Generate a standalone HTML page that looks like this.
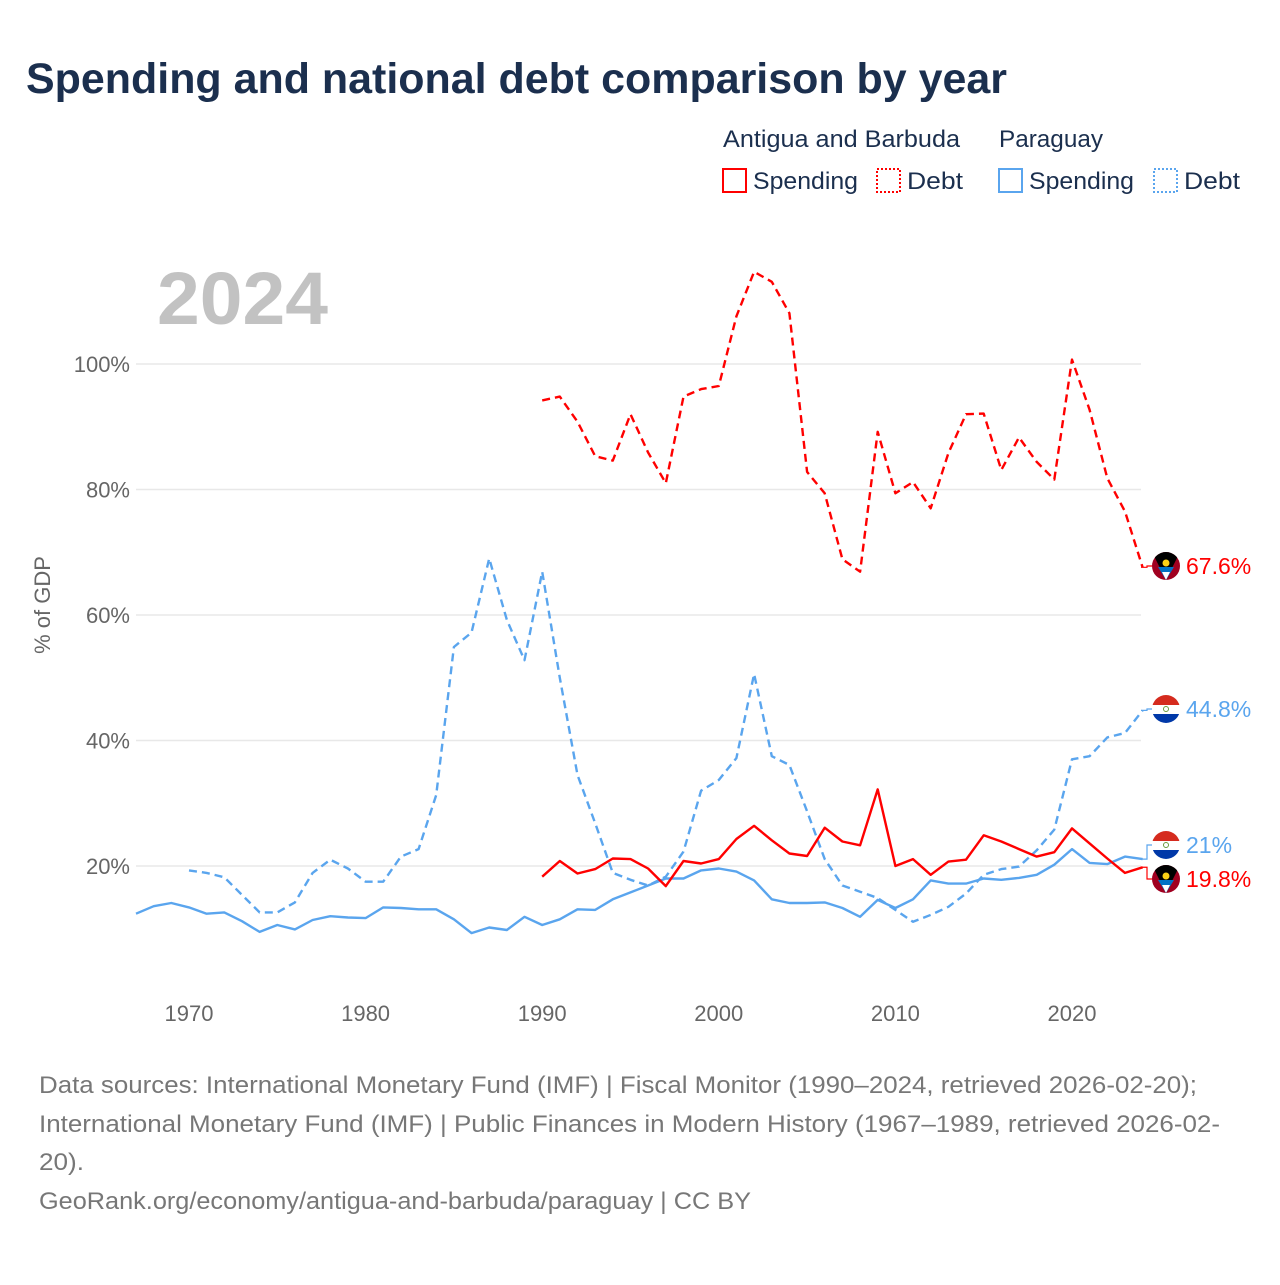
<!DOCTYPE html>
<html><head><meta charset="utf-8">
<style>
html,body{margin:0;padding:0;background:#fff;}
body{width:1280px;height:1280px;position:relative;overflow:hidden;font-family:"Liberation Sans",sans-serif;}
</style></head>
<body>
<svg id="chart" width="1280" height="1280" viewBox="0 0 1280 1280" xmlns="http://www.w3.org/2000/svg" font-family="Liberation Sans, sans-serif">
<text x="26" y="93" font-size="43" font-weight="bold" fill="#1b2f4e" textLength="981" lengthAdjust="spacingAndGlyphs">Spending and national debt comparison by year</text>
<g font-size="24" fill="#1b2f4e">
<text x="723" y="147" textLength="237" lengthAdjust="spacingAndGlyphs">Antigua and Barbuda</text>
<text x="999" y="147" textLength="104" lengthAdjust="spacingAndGlyphs">Paraguay</text>
<g><rect x="723" y="169" width="23" height="23" fill="none" stroke="#ff0000" stroke-width="2"/><text x="753" y="189" textLength="105" lengthAdjust="spacingAndGlyphs">Spending</text></g>
<g><rect x="877" y="169" width="23" height="23" fill="none" stroke="#ff0000" stroke-width="2" stroke-dasharray="2,2"/><text x="907" y="189" textLength="56" lengthAdjust="spacingAndGlyphs">Debt</text></g>
<g><rect x="999" y="169" width="23" height="23" fill="none" stroke="#5aa5ee" stroke-width="2"/><text x="1029" y="189" textLength="105" lengthAdjust="spacingAndGlyphs">Spending</text></g>
<g><rect x="1154" y="169" width="23" height="23" fill="none" stroke="#5aa5ee" stroke-width="2" stroke-dasharray="2,2"/><text x="1184" y="189" textLength="56" lengthAdjust="spacingAndGlyphs">Debt</text></g>
</g>
<text x="157" y="324" font-size="74" font-weight="bold" fill="#c2c2c2" textLength="171" lengthAdjust="spacingAndGlyphs">2024</text>
<text transform="translate(50,605) rotate(-90)" text-anchor="middle" font-size="22" fill="#666">% of GDP</text>
<g id="grid"></g><g id="yticks"></g><g id="xticks"></g><g id="series"></g><g id="ends"></g>
<g font-size="24" fill="#777">
<text x="39" y="1093" textLength="1158" lengthAdjust="spacingAndGlyphs">Data sources: International Monetary Fund (IMF) | Fiscal Monitor (1990–2024, retrieved 2026-02-20);</text>
<text x="39" y="1132" textLength="1181" lengthAdjust="spacingAndGlyphs">International Monetary Fund (IMF) | Public Finances in Modern History (1967–1989, retrieved 2026-02-</text>
<text x="39" y="1170" textLength="45" lengthAdjust="spacingAndGlyphs">20).</text>
<text x="39" y="1209" textLength="712" lengthAdjust="spacingAndGlyphs">GeoRank.org/economy/antigua-and-barbuda/paraguay | CC BY</text>
</g>
</svg>
<script>
const yTicks=[20,40,60,80,100];
const xTicks=[1970,1980,1990,2000,2010,2020];
const pySpendStart=1967;
const pySpend=[12.4,13.6,14.1,13.4,12.4,12.6,11.2,9.5,10.6,9.9,11.4,12.0,11.8,11.7,13.4,13.3,13.1,13.1,11.5,9.3,10.2,9.8,11.9,10.6,11.5,13.1,13.0,14.7,15.8,16.9,18.0,18.0,19.3,19.6,19.1,17.7,14.7,14.1,14.1,14.2,13.3,11.9,14.6,13.3,14.7,17.7,17.2,17.2,18.0,17.8,18.1,18.6,20.2,22.7,20.5,20.3,21.5,21.1];
const pyDebtStart=1970;
const pyDebt=[19.3,18.9,18.2,15.4,12.6,12.6,14.2,18.9,21.0,19.6,17.5,17.5,21.5,22.7,31.3,54.9,57.2,69.0,59.2,52.8,66.9,50.0,34.5,26.8,18.9,17.8,16.9,18.3,22.3,32.0,33.7,37.2,50.6,37.5,36.1,28.7,21.1,16.9,15.9,14.9,13.0,11.1,12.2,13.5,15.6,18.6,19.5,19.9,22.5,25.8,37.0,37.5,40.5,41.2,44.8];
const agStart=1990;
const agSpend=[18.3,20.8,18.8,19.5,21.2,21.1,19.6,16.8,20.8,20.4,21.1,24.3,26.4,24.1,22.0,21.6,26.1,23.9,23.3,32.2,20.0,21.1,18.6,20.7,21.0,24.9,23.9,22.7,21.5,22.2,26.0,23.6,21.2,18.9,19.8];
const agDebt=[94.2,94.8,90.8,85.3,84.6,92.0,85.9,81.0,94.8,96.0,96.5,107.6,114.7,113.1,108.1,82.8,79.4,68.9,66.9,89.2,79.4,81.2,77.0,85.8,92.0,92.1,83.1,88.3,84.4,81.6,100.7,92.7,81.8,76.5,67.6];

const NS='http://www.w3.org/2000/svg';
const X=yr=>136+(yr-1967)*17.66;
const Y=v=>991.5-v*6.275;
function mk(tag,attrs,parent){const e=document.createElementNS(NS,tag);for(const k in attrs)e.setAttribute(k,attrs[k]);parent.appendChild(e);return e;}
const grid=document.getElementById('grid'),yt=document.getElementById('yticks'),xt=document.getElementById('xticks'),ser=document.getElementById('series'),ends=document.getElementById('ends');
yTicks.forEach(t=>{
 const l=mk('line',{x1:136,x2:1141,y1:Y(t),y2:Y(t),stroke:'#e8e8e8','stroke-width':1.5},grid);
 
 
 const tx=mk('text',{x:130,y:Y(t)+8,'text-anchor':'end','font-size':22,fill:'#666'},yt);
 tx.textContent=t+'%';
 
 
});
xTicks.forEach(t=>{
 const tx=mk('text',{x:X(t),y:1021,'text-anchor':'middle','font-size':22,fill:'#666'},xt);
 tx.textContent=t;
 
 
});
function line(arr,start,color,dash,name){
 const pts=arr.map((v,i)=>X(start+i).toFixed(1)+','+Y(v).toFixed(1)).join(' ');
 const p=mk('polyline',{points:pts,fill:'none',stroke:color,'stroke-width':2.4,'stroke-linejoin':'round'},ser);
 if(dash)p.setAttribute('stroke-dasharray','8,5');
 
 
}
line(pyDebt,pyDebtStart,'#5aa5ee',true,'paraguay-debt-line');
line(pySpend,pySpendStart,'#5aa5ee',false,'paraguay-spending-line');
line(agDebt,agStart,'#ff0000',true,'antigua-debt-line');
line(agSpend,agStart,'#ff0000',false,'antigua-spending-line');

function flag(cx,cy,type,name){
 const g=mk('g',{},ends);
 
 
 const id='c'+Math.round(cy);
 const cp=mk('clipPath',{id:id},g);mk('circle',{cx:cx,cy:cy,r:14},cp);
 const h=mk('g',{'clip-path':'url(#'+id+')'},g);
 if(type==='py'){
  mk('rect',{x:cx-14,y:cy-14,width:28,height:10,fill:'#d52b1e'},h);
  mk('rect',{x:cx-14,y:cy-4,width:28,height:9,fill:'#fff'},h);
  mk('rect',{x:cx-14,y:cy+5,width:28,height:10,fill:'#0038a8'},h);
  mk('circle',{cx:cx,cy:cy,r:2.5,fill:'none',stroke:'#6a9a3a','stroke-width':1},h);
 }else{
  mk('rect',{x:cx-14,y:cy-14,width:28,height:28,fill:'#a00020'},h);
  mk('polygon',{points:(cx-14)+','+(cy-14)+' '+(cx+14)+','+(cy-14)+' '+cx+','+(cy+14),fill:'#000'},h);
  mk('polygon',{points:(cx-8)+','+(cy+1)+' '+(cx+8)+','+(cy+1)+' '+cx+','+(cy+14),fill:'#0072c6'},h);
  mk('polygon',{points:(cx-4)+','+(cy+6)+' '+(cx+4)+','+(cy+6)+' '+cx+','+(cy+14),fill:'#fff'},h);
  mk('circle',{cx:cx,cy:cy-3,r:3.5,fill:'#fcd116'},h);
 }
}
function endLabel(v,yl,color,type,name,txt){
 const y0=Y(v);
 const c=mk('polyline',{points:'1141,'+y0+' 1147,'+y0+' 1147,'+yl+' 1152,'+yl,fill:'none',stroke:color,'stroke-width':1.2},ends);
 
 
 flag(1166,yl,type,name+'-flag');
 const t=mk('text',{x:1186,y:yl+8,'font-size':23,fill:color},ends);
 t.textContent=txt;
 
 
}
endLabel(agDebt[agDebt.length-1],566,'#ff0000','ag','antigua-debt-end',agDebt[agDebt.length-1]+'%');
endLabel(pyDebt[pyDebt.length-1],709,'#5aa5ee','py','paraguay-debt-end',pyDebt[pyDebt.length-1]+'%');
endLabel(pySpend[pySpend.length-1],845,'#5aa5ee','py','paraguay-spending-end','21%');
endLabel(agSpend[agSpend.length-1],879,'#ff0000','ag','antigua-spending-end',agSpend[agSpend.length-1]+'%');
</script>
</body></html>
